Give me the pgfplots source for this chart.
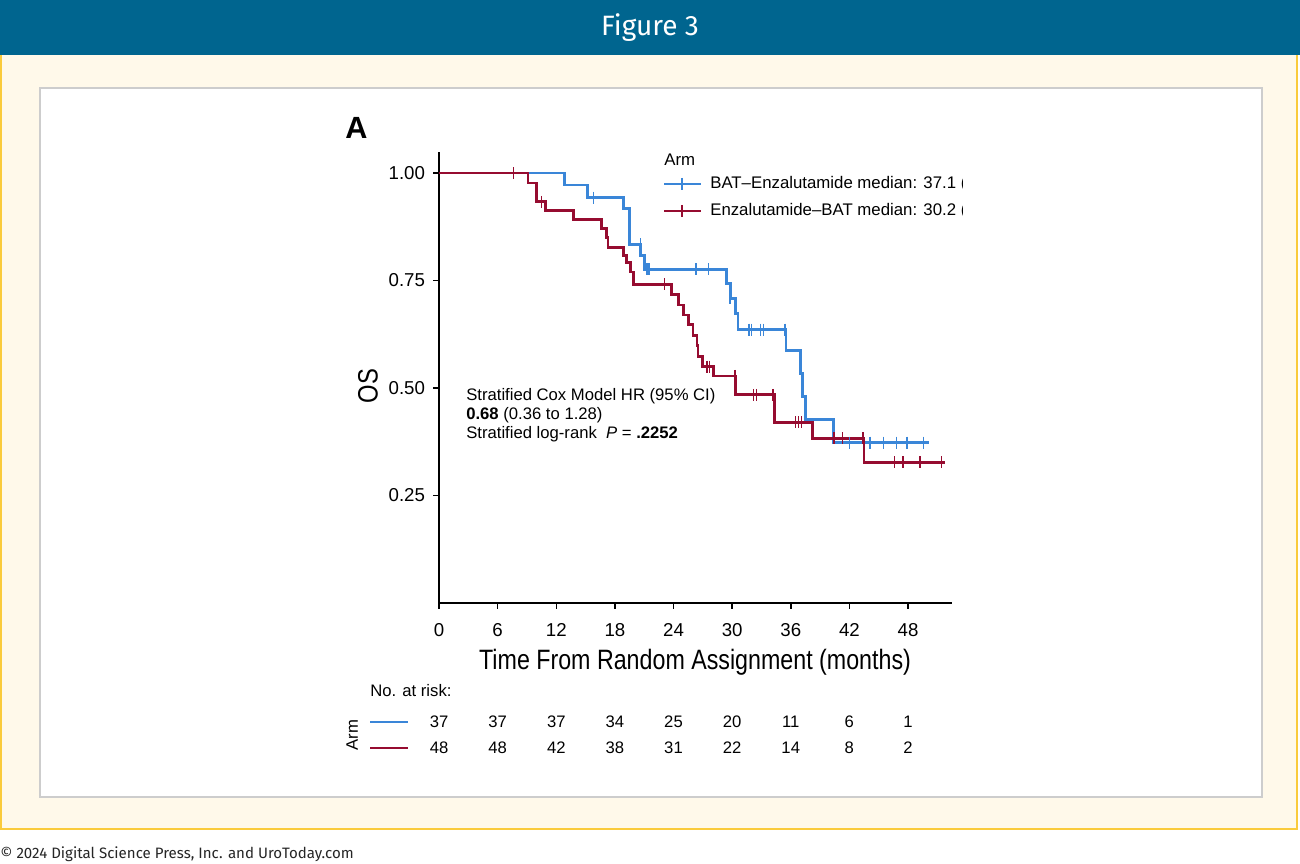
\documentclass[border=0pt]{standalone}
\usepackage{pgfplots}
\pgfplotsset{compat=1.18}
\usepackage{fontspec}
\setmainfont{Liberation Sans}
\newfontfamily\fira{Fira Sans}
\definecolor{kmblue}{RGB}{58,134,216}
\definecolor{kmred}{RGB}{150,12,48}
\definecolor{hdr}{RGB}{0,101,143}
\definecolor{cream}{RGB}{255,249,234}
\definecolor{ybord}{RGB}{250,203,60}
\definecolor{pgray}{RGB}{205,205,205}

\begin{document}
\begin{tikzpicture}
% page background, pixel coordinates (y down)
\begin{scope}[x=0.75pt,y=-0.75pt]
\fill[white] (0,0) rectangle (1300,864);
\fill[cream] (0,55) rectangle (1298,830);
\draw[ybord, line width=1.6pt] (1,55) -- (1,829) -- (1297,829) -- (1297,55);
\fill[hdr] (0,0) rectangle (1300,55);
\node[text=white, font=\fira\fontsize{21}{25}\selectfont] at (650,28) {Figure 3};
\draw[pgray, line width=1.5pt, fill=white] (40,88) rectangle (1262,797);
\node[anchor=base west, inner sep=0, text=black!85, font=\fira\fontsize{11.3}{14}\selectfont] at (0,859) {© 2024 Digital Science Press, Inc. and UroToday.com};
\end{scope}

\begin{axis}[
  at={(329.25pt,-452.25pt)}, anchor=south west,
  scale only axis, width=384.75pt, height=338.25pt,
  xmin=0, xmax=52.5, ymin=0, ymax=1.049,
  axis lines*=left,
  axis line style={line width=1.4pt, black},
  tick align=outside, major tick length=4.5pt,
  tick style={line width=1.1pt, black},
  xtick={0,6,12,18,24,30,36,42,48},
  xticklabels={0,6,12,18,24,30,36,42,48},
  ytick={0.25,0.5,0.75,1},
  yticklabels={0.25,0.50,0.75,1.00},
  tick label style={font=\fontsize{14}{16}\selectfont},
  xticklabel style={yshift=-7pt},
  yticklabel style={xshift=-2.5pt},
  /pgf/number format/assume math mode=true,
  clip=false,
]
% BAT-Enzalutamide
\addplot[const plot, kmblue, line width=2.1pt] coordinates {
 (0,1) (12.8,0.972) (15.2,0.943) (18.9,0.918) (19.5,0.834) (20.6,0.809)
 (21.0,0.776) (29.4,0.743) (29.8,0.709) (30.3,0.674) (30.6,0.636)
 (35.5,0.587) (37.0,0.534) (37.2,0.48) (37.5,0.426) (40.4,0.373) (50.1,0.373)
};
\addplot[only marks, mark=|, mark size=4.5pt, kmblue, mark options={line width=1.1pt}] coordinates {
 (15.8,0.943) (20.6,0.834) (21.3,0.776) (21.5,0.776) (26.3,0.776) (27.6,0.776)
 (29.8,0.709) (31.7,0.636) (32.0,0.636) (32.9,0.636) (33.2,0.636) (35.4,0.636)
 (42.0,0.373) (44.1,0.373) (45.5,0.373) (46.8,0.373) (47.9,0.373) (49.6,0.373)
};
% Enzalutamide-BAT
\addplot[const plot, kmred, line width=2.1pt] coordinates {
 (0,1) (9.1,0.977) (10.0,0.933) (10.9,0.912) (13.8,0.892) (16.6,0.871)
 (17.1,0.850) (17.3,0.827) (18.9,0.809) (19.2,0.792) (19.6,0.77) (19.9,0.741)
 (23.8,0.718) (24.5,0.693) (25.0,0.670) (25.5,0.647) (26.0,0.623) (26.4,0.598)
 (26.5,0.573) (27.0,0.55) (28.1,0.528) (30.3,0.484) (34.3,0.42) (38.2,0.383)
 (43.5,0.327) (51.8,0.327)
};
\addplot[only marks, mark=|, mark size=4.5pt, kmred, mark options={line width=1.1pt}] coordinates {
 (7.6,1) (10.5,0.933) (23.1,0.741) (27.4,0.55) (27.7,0.55) (30.3,0.528)
 (32.2,0.484) (32.5,0.484) (34.2,0.484) (36.5,0.42) (36.8,0.42) (37.1,0.42)
 (40.4,0.383) (41.3,0.383) (43.4,0.383) (46.6,0.327) (47.5,0.327) (49.2,0.327) (51.4,0.327)
};
\end{axis}

\begin{scope}[x=0.75pt,y=-0.75pt]
\node[anchor=base west, inner sep=0, font=\bfseries\fontsize{23}{26}\selectfont] at (345,139) {A};
\node[rotate=90, font=\fontsize{21}{24}\selectfont] at (368,386) {\scalebox{0.85}[1]{OS}};
\node[font=\fontsize{21}{24}\selectfont] at (695,662) {\scalebox{0.83}[1]{Time From Random Assignment (months)}};
% legend
\begin{scope}
\clip (600,140) rectangle (962,230);
\node[anchor=west, inner sep=0, font=\fontsize{12.6}{15}\selectfont] at (664,160) {Arm};
\draw[kmblue, line width=1.3pt] (664,184) -- (701,184) (682,178) -- (682,190);
\draw[kmred, line width=1.3pt] (664,211) -- (701,211) (682,205) -- (682,217);
\node[anchor=west, inner sep=0, font=\fontsize{12.6}{15}\selectfont] at (710,184) {BAT–Enzalutamide median: 37.1 (};
\node[anchor=west, inner sep=0, font=\fontsize{12.6}{15}\selectfont] at (710,211) {Enzalutamide–BAT median: 30.2 (};
\end{scope}
% annotation
\node[anchor=west, inner sep=0, font=\fontsize{12.5}{15}\selectfont] at (466,396) {Stratified Cox Model HR (95\% CI)};
\node[anchor=west, inner sep=0, font=\fontsize{12.5}{15}\selectfont] at (466,415) {\textbf{0.68} (0.36 to 1.28)};
\node[anchor=west, inner sep=0, font=\fontsize{12.5}{15}\selectfont] at (466,434) {Stratified log-rank~ \textit{P} = \textbf{.2252}};
% number at risk
\node[anchor=west, inner sep=0, font=\fontsize{12.5}{15}\selectfont] at (370,691) {No. at risk:};
\node[rotate=90, font=\fontsize{12.5}{15}\selectfont] at (352,735) {Arm};
\draw[kmblue, line width=2.2pt] (370,722) -- (408,722);
\draw[kmred, line width=2.2pt] (370,748) -- (408,748);
\foreach \n [count=\i from 0] in {37,37,37,34,25,20,11,6,1}
  \node[font=\fontsize{12.5}{15}\selectfont] at (439+58.62*\i,722) {\n};
\foreach \n [count=\i from 0] in {48,48,42,38,31,22,14,8,2}
  \node[font=\fontsize{12.5}{15}\selectfont] at (439+58.62*\i,748) {\n};
\end{scope}
\end{tikzpicture}
\end{document}
